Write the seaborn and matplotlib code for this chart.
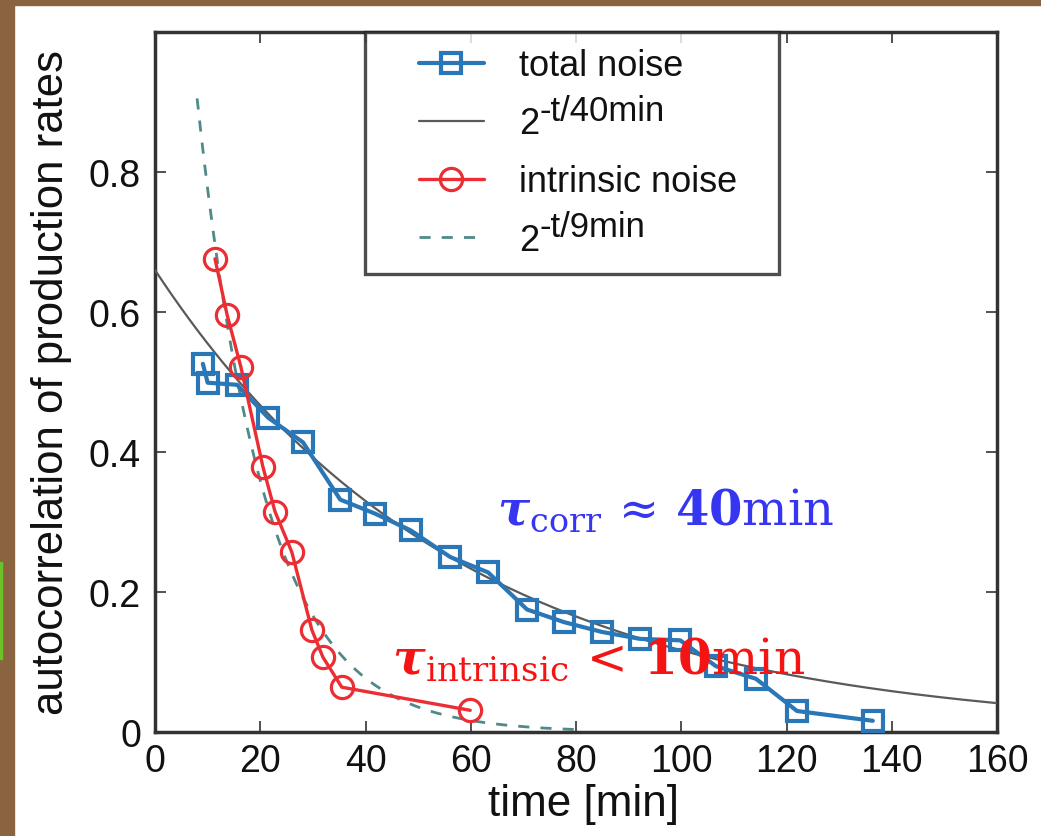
import numpy as np
import pandas as pd
import matplotlib
matplotlib.use("Agg")
import matplotlib.pyplot as plt
import seaborn as sns
from matplotlib.patches import Rectangle
from matplotlib.lines import Line2D
from matplotlib.legend_handler import HandlerLine2D

# ---- data ----
total_t = [9.1, 10.0, 15.6, 21.5, 28.1, 35.2, 41.8, 48.6, 56.1, 63.3, 70.7,
           77.7, 84.9, 92.2, 99.8, 106.6, 114.2, 122.0, 136.4]
total_ac = [0.526, 0.499, 0.496, 0.449, 0.414, 0.332, 0.312, 0.288, 0.250, 0.228,
            0.175, 0.157, 0.143, 0.133, 0.131, 0.094, 0.076, 0.030, 0.016]
intr_t = [11.4, 13.7, 16.3, 20.5, 22.8, 26.0, 29.8, 31.9, 35.5, 59.9]
intr_ac = [0.676, 0.596, 0.522, 0.379, 0.315, 0.257, 0.146, 0.107, 0.064, 0.031]

# model curves shown in the legend: A * 2^(-t/T)
slow_T, slow_A, slow_range = 40.0, 0.66, (0, 160)
fast_T, fast_A, fast_range = 9.0, 1.676, (8, 80)

legend_labels = ["total noise", "2", "intrinsic noise\u2002\u2009", "2"]
legend_exponents = [None, "-t/40min", None, "-t/9min"]
xticks = [0, 20, 40, 60, 80, 100, 120, 140, 160]
yticks = [0, 0.2, 0.4, 0.6, 0.8]
ytick_labels = ["0", "0.2", "0.4", "0.6", "0.8"]
corr_text = r"$\mathbfit{\tau}_{\mathrm{corr}}\,\approx\,\mathbf{40}\mathrm{min}$"
intr_text = r"$\mathbfit{\tau}_{\mathrm{intrinsic}}\,<\,\mathbf{10}\mathrm{min}$"

c_blue = "#2a77b8"
c_red = "#ec2d33"
c_gray = "#5a5a5a"
c_teal = "#4f8a88"

sns.set_theme(style="ticks")
plt.rcParams["font.family"] = ["Liberation Sans", "DejaVu Sans"]
plt.rcParams["mathtext.fontset"] = "dejavuserif"

fig = plt.figure(figsize=(10.41, 8.37), dpi=100)
ax = fig.add_axes([155 / 1041, 1 - 733 / 837, (997 - 155) / 1041, (733 - 33) / 837])

df_total = pd.DataFrame({"t": total_t, "ac": total_ac})
df_intr = pd.DataFrame({"t": intr_t, "ac": intr_ac})
ts = np.linspace(*slow_range, 300)
df_slow = pd.DataFrame({"t": ts, "ac": slow_A * 2 ** (-ts / slow_T)})
tf = np.linspace(*fast_range, 300)
df_fast = pd.DataFrame({"t": tf, "ac": fast_A * 2 ** (-tf / fast_T)})

sns.lineplot(data=df_total, x="t", y="ac", ax=ax, color=c_blue, lw=3.0,
             marker="s", markersize=15, markerfacecolor="none",
             markeredgecolor=c_blue, markeredgewidth=3.0, label=legend_labels[0], zorder=4)
sns.lineplot(data=df_slow, x="t", y="ac", ax=ax, color=c_gray, lw=1.6,
             label=legend_labels[1], zorder=3)
sns.lineplot(data=df_intr, x="t", y="ac", ax=ax, color=c_red, lw=2.4,
             marker="o", markersize=16, markerfacecolor="none",
             markeredgecolor=c_red, markeredgewidth=2.3, label=legend_labels[2], zorder=5)
sns.lineplot(data=df_fast, x="t", y="ac", ax=ax, color=c_teal, lw=2.0,
             label=legend_labels[3], zorder=2)
ax.lines[-1].set_linestyle((0, (4, 4)))

ax.set_xlim(0, 160)
ax.set_ylim(0, 1.0)
ax.set_xticks(xticks)
ax.set_yticks(yticks)
ax.set_xticklabels([str(v) for v in xticks])
ax.set_yticklabels(ytick_labels)
ax.tick_params(direction="in", length=8, width=1.2, labelsize=27, colors="#333333",
               top=True, right=True, labelcolor="#111111")
ax.tick_params(axis="x", pad=8)
ax.tick_params(axis="y", pad=10)
for s in ax.spines.values():
    s.set_linewidth(2.5)
    s.set_color("#333333")
    s.set_visible(True)

ax.set_xlabel("time [min]", fontsize=31.8, labelpad=3, color="#111111")
ax.xaxis.label.set_x(0.5095)
ax.set_ylabel("autocorrelation of production rates", fontsize=31.5, labelpad=12,
              color="#111111")

fs_leg = 26
leg = ax.legend(loc="upper left", bbox_to_anchor=(0.249, 1.0), borderaxespad=0,
                fontsize=fs_leg, frameon=True, fancybox=False,
                handlelength=2.85, handletextpad=0.97, labelspacing=0.64, borderpad=0.45,
                handler_map={Line2D: HandlerLine2D(xpad=1.05)})
leg.get_frame().set_edgecolor("#222222")
leg.get_frame().set_linewidth(2.4)
for txt, sup in zip(leg.get_texts(), legend_exponents):
    txt.set_color("#111111")
    if sup:
        ax.annotate(sup, xy=(1, 0.5), xycoords=txt, xytext=(0.5, 9.5),
                    textcoords="offset points", va="center", ha="left",
                    fontsize=25, color="#111111", annotation_clip=False, zorder=10)

ax.text(65.0, 0.298, corr_text, fontsize=34.5, color="#3535f2", va="baseline", zorder=6)
ax.text(45.0, 0.0856, intr_text, fontsize=35, color="#f41414", va="baseline", zorder=6)

# screenshot frame
fig.patches.append(Rectangle((0, 1 - 6 / 837), 1, 6 / 837, transform=fig.transFigure,
                             color="#8a6440", zorder=-1))
fig.patches.append(Rectangle((0, 0), 14 / 1041, 1, transform=fig.transFigure,
                             color="#8a6440", zorder=-1))
fig.patches.append(Rectangle((0, 1 - 660 / 837), 2 / 1041, 97 / 837, transform=fig.transFigure,
                             color="#6cc22a", zorder=0))

fig.savefig("out.png", dpi=100)
